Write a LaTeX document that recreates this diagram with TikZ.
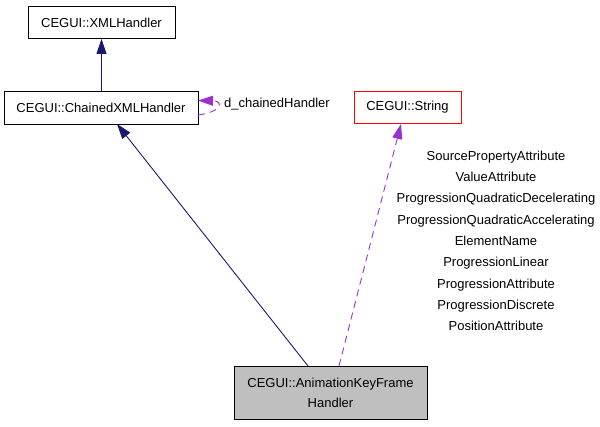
\documentclass[tikz,border=0pt]{standalone}
\usepackage{fontspec}
\setmainfont{Liberation Sans}
\usetikzlibrary{arrows.meta}
\definecolor{navyedge}{HTML}{191970}
\definecolor{purpedge}{HTML}{9A32CD}
\definecolor{boxgray}{HTML}{BFBFBF}
\begin{document}
\begin{tikzpicture}[x=1pt,y=-1pt,
  cls/.style={draw=black,line width=0.9pt,inner sep=0pt,font=\fontsize{13}{16}\selectfont,align=center},
  inh/.style={draw=navyedge,line width=0.9pt,-{Triangle[length=15pt,width=10pt]}},
  use/.style={draw=purpedge,line width=0.9pt,dash pattern=on 7pt off 5pt,-{Triangle[length=15pt,width=10pt]}},
  lbl/.style={font=\fontsize{13}{16}\selectfont,inner sep=0pt,text height=9.5pt,text depth=3pt}]
\useasboundingbox (0,0) rectangle (600,427);
\node[cls,minimum width=147pt,minimum height=32pt] (xml) at (101.5,22.5) {CEGUI::XMLHandler};
\node[cls,minimum width=194pt,minimum height=33pt] (chain) at (101,107.5) {CEGUI::ChainedXMLHandler};
\node[cls,draw=red,minimum width=107pt,minimum height=32pt] (str) at (407.5,107.5) {CEGUI::String};
\node[cls,fill=boxgray,minimum width=193pt,minimum height=53pt] (anim) at (330.5,392.5) {CEGUI::AnimationKeyFrame\\[4pt]Handler};
\draw[inh] (chain.north -| xml.south) -- (xml.south);
\coordinate (a1) at (308,366);
\coordinate (c1) at (117,124);
\draw[inh] (a1) -- (c1);
\coordinate (a2) at (339,366);
\coordinate (s1) at (401,124);
\draw[use] (a2) -- (s1);
\coordinate (l1) at (198,115);
\coordinate (l2) at (198,100.5);
\draw[use] (l1) .. controls (222,112) and (224,101) .. (l2);
\node[lbl,anchor=west] (dch) at (224,104.5) {d\_chainedHandler};
\node[lbl] (t1) at (496,157) {SourcePropertyAttribute};
\node[lbl] (t2) at (496,178.3) {ValueAttribute};
\node[lbl] (t3) at (496,199.6) {ProgressionQuadraticDecelerating};
\node[lbl] (t4) at (496,220.9) {ProgressionQuadraticAccelerating};
\node[lbl] (t5) at (496,242.2) {ElementName};
\node[lbl] (t6) at (496,263.5) {ProgressionLinear};
\node[lbl] (t7) at (496,284.8) {ProgressionAttribute};
\node[lbl] (t8) at (496,306.1) {ProgressionDiscrete};
\node[lbl] (t9) at (496,327.4) {PositionAttribute};
\end{tikzpicture}
\end{document}
